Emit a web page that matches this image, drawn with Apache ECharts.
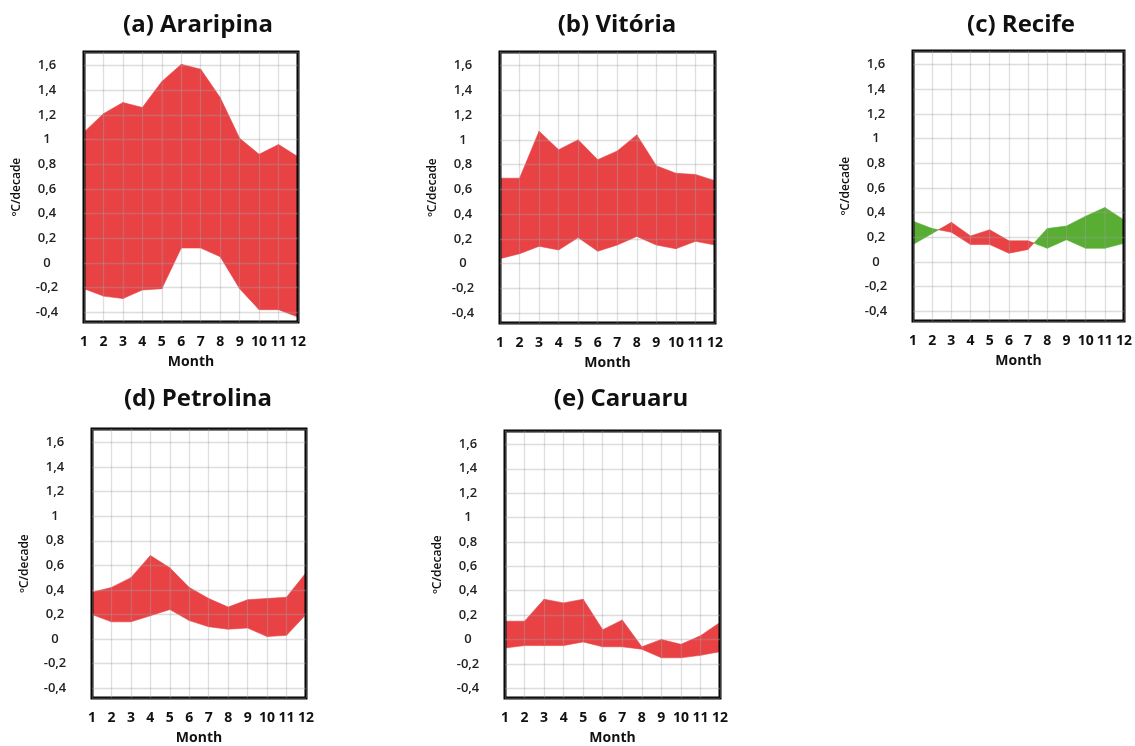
<!DOCTYPE html>
<html>
<head>
<meta charset="utf-8">
<script src="https://cdn.jsdelivr.net/npm/echarts@6/dist/echarts.min.js"></script>
<style>
  html, body { margin: 0; padding: 0; background: #fff; }
  #chart { width: 1135px; height: 746px; }
</style>
</head>
<body>
<div id="chart"></div>
<script>
// --- données (ºC/decade) --- //
const months = [1, 2, 3, 4, 5, 6, 7, 8, 9, 10, 11, 12];
const monthLabels = ['1', '2', '3', '4', '5', '6', '7', '8', '9', '10', '11', '12'];

// lineA / lineB : la bande est rouge quand B > A, verte quand A > B
const araripinaA = [-0.21, -0.27, -0.29, -0.22, -0.21, 0.12, 0.12, 0.05, -0.21, -0.38, -0.38, -0.44];
const araripinaB = [1.06, 1.21, 1.30, 1.26, 1.47, 1.61, 1.57, 1.34, 1.01, 0.88, 0.96, 0.86];

const vitoriaA = [0.04, 0.08, 0.14, 0.11, 0.21, 0.10, 0.15, 0.22, 0.15, 0.12, 0.18, 0.15];
const vitoriaB = [0.69, 0.69, 1.07, 0.92, 1.00, 0.84, 0.91, 1.04, 0.79, 0.73, 0.72, 0.67];

const recifeA = [0.33, 0.27, 0.24, 0.14, 0.14, 0.07, 0.10, 0.27, 0.29, 0.37, 0.44, 0.34];
const recifeB = [0.14, 0.23, 0.32, 0.21, 0.26, 0.17, 0.17, 0.11, 0.18, 0.11, 0.11, 0.15];

const petrolinaA = [0.20, 0.14, 0.14, 0.19, 0.24, 0.15, 0.10, 0.08, 0.09, 0.02, 0.03, 0.20];
const petrolinaB = [0.38, 0.42, 0.50, 0.68, 0.58, 0.42, 0.33, 0.26, 0.32, 0.33, 0.34, 0.54];

const caruaruA = [-0.07, -0.05, -0.05, -0.05, -0.02, -0.06, -0.06, -0.08, -0.15, -0.15, -0.13, -0.10];
const caruaruB = [0.15, 0.15, 0.33, 0.30, 0.33, 0.08, 0.16, -0.06, 0.00, -0.04, 0.03, 0.14];

const panelTitles = ['(a) Araripina', '(b) Vitória', '(c) Recife', '(d) Petrolina', '(e) Caruaru'];
const panelData = [
  [araripinaA, araripinaB],
  [vitoriaA, vitoriaB],
  [recifeA, recifeB],
  [petrolinaA, petrolinaB],
  [caruaruA, caruaruB]
];

const RED = '#e84245';
const GREEN = '#58ad32';
const FONT = '"Open Sans", "DejaVu Sans", sans-serif';

// --- positions des cadres (px) --- //
const boxes = [
  { left: 84, top: 52, width: 214, height: 270, cx: 193, ty: 8 },
  { left: 500, top: 52, width: 215, height: 271, cx: 612, ty: 8 },
  { left: 913, top: 51, width: 215, height: 270, cx: 1016, ty: 8 },
  { left: 92, top: 429, width: 214, height: 270, cx: 193, ty: 382 },
  { left: 505, top: 431, width: 215, height: 270, cx: 616, ty: 382 }
];

// segments entre deux mois consécutifs
function segments(a, b) {
  const out = [];
  for (let i = 0; i < months.length - 1; i++) {
    out.push([months[i], months[i + 1], a[i], a[i + 1], b[i], b[i + 1]]);
  }
  return out;
}

function renderBand(params, api) {
  const x0 = api.value(0), x1 = api.value(1);
  const a0 = api.value(2), a1 = api.value(3);
  const b0 = api.value(4), b1 = api.value(5);
  const d0 = b0 - a0, d1 = b1 - a1;
  const poly = (pts, color) => ({
    type: 'polygon',
    shape: { points: pts.map(p => api.coord(p)) },
    style: { fill: color, stroke: color, lineWidth: 0.6 }
  });
  const children = [];
  if (d0 * d1 >= 0) {
    children.push(poly([[x0, a0], [x1, a1], [x1, b1], [x0, b0]], (d0 + d1) >= 0 ? RED : GREEN));
  } else {
    // les deux courbes se croisent : on coupe au point d'intersection
    const t = d0 / (d0 - d1);
    const xc = x0 + t * (x1 - x0);
    const yc = a0 + t * (a1 - a0);
    children.push(poly([[x0, a0], [xc, yc], [x0, b0]], d0 > 0 ? RED : GREEN));
    children.push(poly([[xc, yc], [x1, a1], [x1, b1]], d1 > 0 ? RED : GREEN));
  }
  return { type: 'group', children: children };
}

const splitStyle = { show: true, lineStyle: { color: 'rgba(160,160,160,0.35)', width: 1.3 } };

const option = {
  backgroundColor: '#fff',
  animation: false,
  title: panelTitles.map((t, i) => ({
    text: t,
    left: boxes[i].cx,
    top: boxes[i].ty,
    textAlign: 'center',
    textStyle: { fontFamily: FONT, fontWeight: 'bold', fontSize: 24, color: '#111' }
  })),
  grid: boxes.map(b => ({
    left: b.left, top: b.top, width: b.width, height: b.height,
    show: true, borderColor: '#000', borderWidth: 3, backgroundColor: 'transparent'
  })),
  xAxis: boxes.map((b, i) => ({
    type: 'value',
    gridIndex: i,
    min: 1,
    max: 12,
    interval: 1,
    name: 'Month',
    nameLocation: 'middle',
    nameGap: 33,
    nameTextStyle: { fontFamily: FONT, fontWeight: 'bold', fontSize: 14, color: '#111' },
    axisLine: { show: false },
    axisTick: { show: false },
    splitLine: splitStyle,
    axisLabel: {
      margin: 13,
      fontFamily: FONT, fontWeight: 'bold', fontSize: 14, color: '#111',
      showMinLabel: true, showMaxLabel: true,
      formatter: v => monthLabels[months.indexOf(v)]
    }
  })),
  yAxis: boxes.map((b, i) => ({
    type: 'value',
    gridIndex: i,
    min: -0.48,
    max: 1.71,
    splitNumber: 11,
    name: 'ºC/decade',
    nameLocation: 'middle',
    nameGap: 61,
    nameTextStyle: { fontFamily: FONT, fontWeight: 600, fontSize: 12, color: '#111' },
    axisLine: { show: false },
    axisTick: { show: false },
    splitLine: splitStyle,
    axisLabel: {
      margin: 37,
      align: 'center',
      showMinLabel: false, showMaxLabel: false,
      fontFamily: FONT, fontWeight: 600, fontSize: 13, color: '#222',
      formatter: v => String(+(+v).toFixed(1)).replace('.', ',')
    }
  })),
  series: panelData.map((d, i) => ({
    type: 'custom',
    name: panelTitles[i],
    xAxisIndex: i,
    yAxisIndex: i,
    z: -1,
    renderItem: renderBand,
    encode: { x: [0, 1], y: [2, 3, 4, 5] },
    data: segments(d[0], d[1])
  }))
};

const chart = echarts.init(document.getElementById('chart'));
chart.setOption(option);
</script>
</body>
</html>
